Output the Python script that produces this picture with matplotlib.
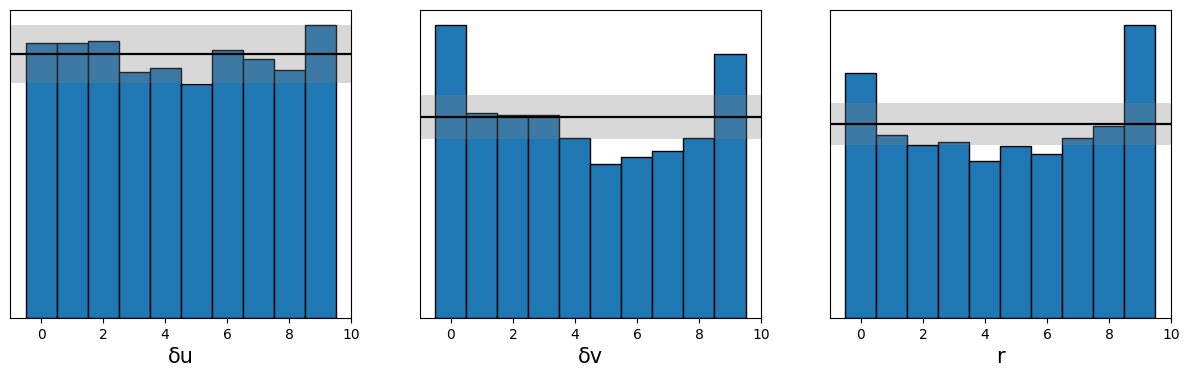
import numpy as np
import matplotlib
matplotlib.use("Agg")
import matplotlib.pyplot as plt

# rank histogram data (arbitrary count units), one list per variable
ranks = np.arange(10)
labels = ["δu", "δv", "r"]
counts_du = [276, 276, 278, 247, 251, 235, 269, 260, 249, 294]
counts_dv = [294, 205, 203, 203, 180, 154, 161, 167, 180, 265]
counts_r = [246, 183, 173, 176, 157, 172, 164, 180, 192, 294]
means = [264.6, 201.6, 194.3]
bands = [(235.6, 293.3), (179.6, 223.3), (173.3, 215.3)]

fig, axes = plt.subplots(1, 3, figsize=(11.91, 3.77), dpi=100)
fig.subplots_adjust(left=0.0084, right=0.9832, bottom=0.1565, top=0.9735, wspace=0.2023)

for ax, counts, label, mean, band in zip(axes, [counts_du, counts_dv, counts_r], labels, means, bands):
    ax.bar(ranks, counts, width=1, color="C0", edgecolor="k")
    ax.axhspan(band[0], band[1], color="0.5", alpha=0.3, lw=0)
    ax.axhline(mean, color="k", lw=1.6)
    ax.set_xlim(-1, 10)
    ax.set_ylim(0, max(counts) * 1.05)
    ax.set_xticks([0, 2, 4, 6, 8, 10])
    ax.set_yticks([])
    ax.set_xlabel(label, fontsize=15)

plt.savefig("out.png", dpi=100)
